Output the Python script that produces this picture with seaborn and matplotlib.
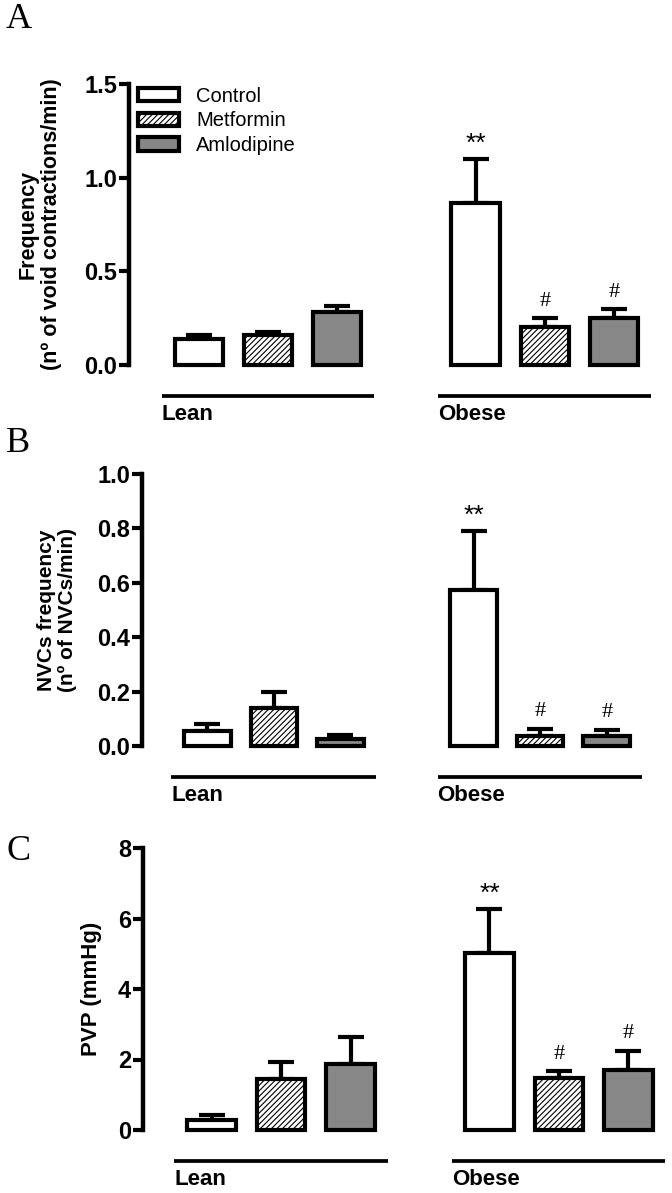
import numpy as np
import pandas as pd
import matplotlib
matplotlib.use("Agg")
import matplotlib.pyplot as plt
import matplotlib.transforms as mtransforms
from matplotlib.patches import Patch
from matplotlib import font_manager
import seaborn as sns

# ---------------- data ----------------
groups = ["Lean", "Obese"]
treatments = ["Control", "Metformin", "Amlodipine"]

freq_lean = [0.137, 0.160, 0.285]
freq_obese = [0.867, 0.201, 0.249]
freq_top_lean = [0.158, 0.178, 0.317]      # mean + SEM
freq_top_obese = [1.10, 0.249, 0.297]

nvc_lean = [0.056, 0.141, 0.026]
nvc_obese = [0.574, 0.038, 0.038]
nvc_top_lean = [0.080, 0.200, 0.039]
nvc_top_obese = [0.790, 0.0625, 0.059]

pvp_lean = [0.27, 1.44, 1.86]
pvp_obese = [5.01, 1.48, 1.70]
pvp_top_lean = [0.42, 1.92, 2.65]
pvp_top_obese = [6.26, 1.67, 2.25]

freq_ticks = [0.0, 0.5, 1.0, 1.5]
freq_ticklabels = ["0.0", "0.5", "1.0", "1.5"]
nvc_ticks = [0.0, 0.2, 0.4, 0.6, 0.8, 1.0]
nvc_ticklabels = ["0.0", "0.2", "0.4", "0.6", "0.8", "1.0"]
pvp_ticks = [0, 2, 4, 6, 8]
pvp_ticklabels = ["0", "2", "4", "6", "8"]

obese_marks = ["**", "#", "#"]

# ---------------- style ----------------
sns.set_style("white")
names = {f.name for f in font_manager.fontManager.ttflist}
SANS = "Liberation Sans" if "Liberation Sans" in names else "DejaVu Sans"
NARROW = "Liberation Sans Narrow" if "Liberation Sans Narrow" in names else SANS
SERIF = "Liberation Serif" if "Liberation Serif" in names else "DejaVu Serif"
plt.rcParams["font.family"] = [SANS, "DejaVu Sans"]
plt.rcParams["hatch.linewidth"] = 0.8
for k in ["text.color", "axes.labelcolor", "xtick.color", "ytick.color", "axes.edgecolor"]:
    plt.rcParams[k] = "black"

W, H = 672, 1193
fig = plt.figure(figsize=(W / 100, H / 100), dpi=100)

fills = ["white", "white", "#878787"]
hatches = [None, "//////", None]
LW = 3.0

panels = [
    dict(letter="A", letter_y=20, rect=(129, 84, 530, 281), xlim=(-0.5025, 1.4125),
         vals=(freq_lean, freq_obese), tops=(freq_top_lean, freq_top_obese),
         ticks=freq_ticks, ticklabels=freq_ticklabels,
         ylabel="Frequency\n(nº of void contractions/min)", ylabel_x=40, ylabel_fs=15.5,
         legend=True),
    dict(letter="B", letter_y=444, rect=(142, 474, 508, 272), xlim=(-0.495, 1.4125),
         vals=(nvc_lean, nvc_obese), tops=(nvc_top_lean, nvc_top_obese),
         ticks=nvc_ticks, ticklabels=nvc_ticklabels,
         ylabel="NVCs frequency\n(nº of NVCs/min)", ylabel_x=57, ylabel_fs=15,
         legend=False),
    dict(letter="C", letter_y=852, rect=(143, 848, 527, 282), xlim=(-0.4975, 1.40),
         vals=(pvp_lean, pvp_obese), tops=(pvp_top_lean, pvp_top_obese),
         ticks=pvp_ticks, ticklabels=pvp_ticklabels,
         ylabel="PVP (mmHg)", ylabel_x=92, ylabel_fs=16,
         legend=False),
]

for p in panels:
    x0, ytop, w, h = p["rect"]
    ax = fig.add_axes([x0 / W, 1 - (ytop + h) / H, w / W, h / H])
    lean, obese = p["vals"]
    top_lean, top_obese = p["tops"]
    df = pd.DataFrame({
        "group": [groups[0]] * 3 + [groups[1]] * 3,
        "treatment": treatments * 2,
        "value": list(lean) + list(obese),
        "top": list(top_lean) + list(top_obese),
    })
    sns.barplot(data=df, x="group", y="value", hue="treatment", order=groups,
                hue_order=treatments, width=0.75, gap=0.3, errorbar=None,
                legend=False, ax=ax, saturation=1)

    xs, vs, ts = [], [], []
    for i, cont in enumerate(ax.containers):
        for j, bar in enumerate(cont.patches):
            bar.set_facecolor(fills[i])
            bar.set_edgecolor("black")
            bar.set_linewidth(LW)
            bar.set_joinstyle("miter")
            if hatches[i]:
                bar.set_hatch(hatches[i])
            bar.set_clip_on(False)
            row = df[(df.group == groups[j]) & (df.treatment == treatments[i])].iloc[0]
            xc = bar.get_x() + bar.get_width() / 2
            xs.append(xc)
            vs.append(row.value)
            ts.append(row.top)
            if groups[j] == "Obese":
                mark = obese_marks[i]
                if mark == "**":
                    ax.annotate(mark, (xc, row.top), xytext=(0, 6),
                                textcoords="offset points", ha="center",
                                va="baseline", fontsize=19, annotation_clip=False)
                else:
                    ax.annotate(mark, (xc, row.top), xytext=(0, 9),
                                textcoords="offset points", ha="center",
                                va="baseline", fontsize=16, family=SERIF,
                                annotation_clip=False)
    xs, vs, ts = np.array(xs), np.array(vs), np.array(ts)
    eb = ax.errorbar(xs, vs, yerr=[np.zeros_like(vs), ts - vs], fmt="none",
                     ecolor="black", elinewidth=LW, capsize=9.7, capthick=LW,
                     zorder=1)
    for art in list(eb.lines[1]) + list(eb.lines[2]):
        art.set_clip_on(False)
    for art in ax.patches:
        art.set_zorder(2)

    ax.set_xlim(*p["xlim"])
    ax.set_ylim(p["ticks"][0], p["ticks"][-1])
    ax.set_yticks(p["ticks"])
    ax.set_yticklabels(p["ticklabels"], fontweight="bold", family=[NARROW, SANS])
    ax.tick_params(axis="y", left=True, length=7.5, width=LW, pad=1, labelsize=17,
                   direction="out", colors="black")
    ax.set_xticks([])
    ax.set_xlabel("")
    ax.set_ylabel("")
    sns.despine(ax=ax, bottom=True)
    ax.spines["left"].set_linewidth(LW + 0.2)
    ax.spines["left"].set_color("black")
    ax.spines["left"].set_capstyle("projecting")
    ax.spines["left"].set_bounds(p["ticks"][0], p["ticks"][-1])

    ax.text((p["ylabel_x"] - x0) / w, 0.5, p["ylabel"], transform=ax.transAxes,
            rotation=90, rotation_mode="anchor", ha="center", va="center",
            fontsize=p["ylabel_fs"], fontweight="bold", linespacing=1.15,
            multialignment="center")

    # group lines
    trans = mtransforms.blended_transform_factory(ax.transData, ax.transAxes)
    ly = -31 / h
    for gi, g in enumerate(groups):
        ax.plot([gi - 0.385, gi + 0.383], [ly, ly], transform=trans, color="black",
                lw=2.7, clip_on=False, solid_capstyle="butt")
        ax.text(gi - 0.385, ly - 8 / h, g, transform=trans, ha="left", va="top",
                fontsize=16, fontweight="bold")

    fig.text(6 / W, 1 - p["letter_y"] / H, p["letter"], family=SERIF, fontsize=26,
             ha="left", va="center")

    if p["legend"]:
        handles = [Patch(facecolor=fills[i], edgecolor="black", hatch=hatches[i],
                         linewidth=LW, label=treatments[i]) for i in range(3)]
        ax.legend(handles=handles, loc="upper left", bbox_to_anchor=(0.017, 0.99),
                  frameon=False, fontsize=14.5, handlelength=2.05, handleheight=0.62,
                  handletextpad=0.85, labelspacing=0.28, borderpad=0, borderaxespad=0)

fig.savefig("out.png", dpi=100)
